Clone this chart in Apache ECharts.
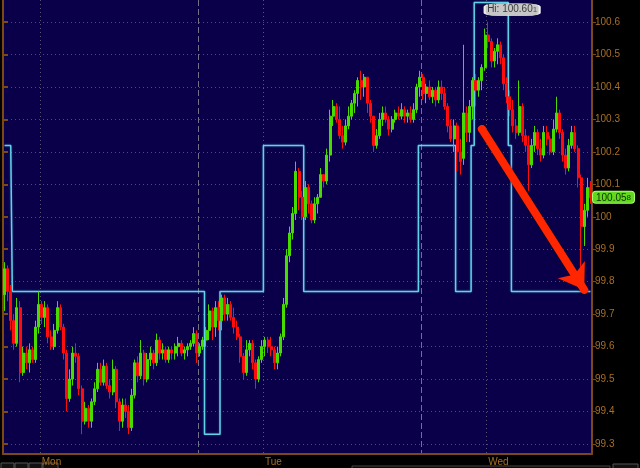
<!DOCTYPE html>
<html>
<head>
<meta charset="utf-8">
<script src="https://cdn.jsdelivr.net/npm/echarts@6/dist/echarts.min.js"></script>
<style>
html,body{margin:0;padding:0;background:#000;}
#c{width:640px;height:468px;}
</style>
</head>
<body>
<div id="c"></div>
<script>
// ---- DATA ----
// 20-minute bars starting Sunday 20:00
const dayNames = ['Sun', 'Mon', 'Tue', 'Wed'];
const firstBarHour = 20;
const barMinutes = 20;
const yTicks = [99.3, 99.4, 99.5, 99.6, 99.7, 99.8, 99.9, 100, 100.1, 100.2, 100.3, 100.4, 100.5, 100.6];

// [open, close, low, high]
const candles = [
[99.76,99.84,99.71,99.86],[99.84,99.77,99.74,99.85],[99.77,99.68,99.65,99.79],[99.68,99.61,99.59,99.70],[99.61,99.72,99.60,99.75],
[99.72,99.52,99.49,99.74],[99.52,99.58,99.51,99.60],[99.58,99.55,99.53,99.60],[99.55,99.59,99.52,99.61],[99.59,99.56,99.55,99.60],
[99.56,99.66,99.55,99.68],[99.66,99.73,99.64,99.77],[99.73,99.69,99.67,99.74],[99.69,99.72,99.66,99.74],[99.72,99.63,99.61,99.73],
[99.63,99.60,99.59,99.65],[99.60,99.65,99.59,99.67],[99.65,99.72,99.64,99.74],[99.72,99.66,99.65,99.73],[99.66,99.58,99.56,99.67],
[99.58,99.44,99.40,99.59],[99.44,99.50,99.43,99.53],[99.50,99.58,99.48,99.60],[99.58,99.57,99.55,99.61],[99.57,99.47,99.45,99.58],
[99.47,99.37,99.33,99.48],[99.37,99.41,99.36,99.43],[99.41,99.37,99.35,99.42],[99.37,99.43,99.35,99.44],[99.43,99.47,99.42,99.49],
[99.47,99.53,99.46,99.55],[99.53,99.49,99.48,99.55],[99.49,99.54,99.48,99.56],[99.54,99.48,99.47,99.55],[99.48,99.46,99.44,99.50],
[99.46,99.53,99.45,99.56],[99.53,99.43,99.41,99.54],[99.43,99.37,99.34,99.44],[99.37,99.42,99.35,99.44],[99.42,99.40,99.38,99.44],
[99.40,99.35,99.33,99.42],[99.35,99.45,99.34,99.47],[99.45,99.55,99.44,99.56],[99.55,99.51,99.49,99.57],[99.51,99.58,99.50,99.62],
[99.58,99.50,99.48,99.59],[99.50,99.56,99.49,99.58],[99.56,99.58,99.54,99.60],[99.58,99.55,99.53,99.59],[99.55,99.62,99.54,99.64],
[99.62,99.58,99.56,99.63],[99.58,99.59,99.56,99.61],[99.59,99.56,99.55,99.60],[99.56,99.59,99.55,99.60],[99.59,99.58,99.56,99.60],
[99.58,99.60,99.56,99.61],[99.60,99.61,99.57,99.63],[99.61,99.58,99.57,99.62],[99.58,99.59,99.56,99.60],[99.59,99.60,99.57,99.61],
[99.60,99.61,99.59,99.62],[99.61,99.64,99.60,99.66],[99.64,99.58,99.55,99.65],[99.58,99.60,99.57,99.61],[99.60,99.62,99.59,99.63],
[99.62,99.65,99.60,99.66],[99.65,99.71,99.62,99.73],[99.71,99.66,99.62,99.72],[99.66,99.72,99.63,99.74],[99.72,99.68,99.65,99.74],
[99.68,99.75,99.65,99.76],[99.75,99.70,99.68,99.76],[99.70,99.73,99.68,99.75],[99.73,99.69,99.68,99.74],[99.69,99.66,99.64,99.72],
[99.66,99.63,99.62,99.68],[99.63,99.57,99.55,99.64],[99.57,99.52,99.50,99.58],[99.52,99.59,99.51,99.62],[99.59,99.61,99.57,99.62],
[99.61,99.55,99.53,99.62],[99.55,99.50,99.47,99.56],[99.50,99.56,99.49,99.57],[99.56,99.60,99.55,99.62],[99.60,99.62,99.57,99.63],
[99.62,99.60,99.58,99.63],[99.60,99.59,99.57,99.63],[99.59,99.55,99.53,99.60],[99.55,99.58,99.53,99.60],[99.58,99.63,99.57,99.64],
[99.63,99.73,99.62,99.75],[99.73,99.88,99.72,99.90],[99.88,99.95,99.86,99.97],[99.95,100.01,99.93,100.03],[100.01,100.14,99.99,100.17],
[100.14,100.06,100.02,100.15],[100.06,100.00,99.99,100.08],[100.00,100.09,99.99,100.11],[100.09,100.04,100.01,100.10],[100.04,99.99,99.98,100.05],
[99.99,100.04,99.98,100.06],[100.04,100.06,100.01,100.07],[100.06,100.13,100.06,100.15],[100.13,100.11,100.09,100.13],[100.11,100.19,100.10,100.21],
[100.19,100.31,100.17,100.33],[100.31,100.34,100.28,100.36],[100.34,100.30,100.29,100.35],[100.30,100.25,100.24,100.34],[100.25,100.23,100.21,100.28],
[100.23,100.28,100.22,100.30],[100.28,100.31,100.27,100.34],[100.31,100.35,100.30,100.36],[100.35,100.38,100.32,100.39],[100.38,100.42,100.34,100.43],
[100.42,100.40,100.36,100.45],[100.40,100.43,100.37,100.44],[100.43,100.35,100.32,100.43],[100.35,100.31,100.29,100.36],[100.31,100.22,100.20,100.31],
[100.22,100.25,100.21,100.27],[100.25,100.30,100.24,100.32],[100.30,100.32,100.28,100.34],[100.32,100.30,100.29,100.34],[100.30,100.27,100.25,100.31],
[100.27,100.30,100.26,100.31],[100.30,100.32,100.29,100.33],[100.32,100.31,100.30,100.34],[100.31,100.33,100.30,100.35],[100.33,100.31,100.29,100.34],
[100.31,100.32,100.29,100.33],[100.32,100.30,100.29,100.34],[100.30,100.33,100.29,100.35],[100.33,100.40,100.32,100.41],[100.40,100.43,100.37,100.45],
[100.43,100.38,100.36,100.44],[100.38,100.40,100.35,100.41],[100.40,100.37,100.36,100.42],[100.37,100.39,100.35,100.40],[100.39,100.36,100.34,100.40],
[100.36,100.40,100.35,100.42],[100.40,100.38,100.36,100.42],[100.38,100.34,100.33,100.40],[100.34,100.28,100.26,100.35],[100.28,100.24,100.23,100.30],
[100.24,100.28,100.20,100.30],[100.28,100.20,100.14,100.29],[100.20,100.17,100.13,100.24],[100.18,100.32,100.16,100.53],[100.32,100.26,100.23,100.34],
[100.26,100.34,100.23,100.36],[100.34,100.42,100.30,100.43],[100.42,100.39,100.34,100.44],[100.39,100.42,100.37,100.43],[100.42,100.46,100.39,100.47],
[100.46,100.56,100.45,100.58],[100.56,100.54,100.52,100.601],[100.54,100.48,100.46,100.55],[100.48,100.51,100.46,100.52],[100.51,100.53,100.47,100.55],
[100.53,100.49,100.47,100.54],[100.49,100.41,100.39,100.50],[100.41,100.37,100.35,100.43],[100.37,100.33,100.31,100.39],[100.33,100.28,100.26,100.36],
[100.28,100.26,100.24,100.30],[100.26,100.34,100.25,100.42],[100.34,100.25,100.23,100.35],[100.25,100.22,100.20,100.27],[100.22,100.16,100.08,100.25],
[100.16,100.22,100.15,100.24],[100.22,100.26,100.20,100.28],[100.26,100.21,100.19,100.27],[100.21,100.19,100.17,100.24],[100.19,100.26,100.18,100.28],
[100.26,100.24,100.22,100.28],[100.24,100.20,100.19,100.25],[100.20,100.27,100.19,100.30],[100.27,100.32,100.26,100.37],[100.32,100.26,100.24,100.33],
[100.26,100.19,100.17,100.27],[100.19,100.15,100.13,100.21],[100.15,100.22,100.14,100.24],[100.22,100.26,100.21,100.28],[100.26,100.21,100.20,100.28],
[100.21,100.12,100.09,100.22],[100.12,99.97,99.84,100.13],[99.97,100.02,99.91,100.04],[100.02,100.09,100.00,100.12],[100.09,100.058,100.04,100.11]
];

// step indicator (cyan), one value per bar
const indicator = [
100.22,100.22,100.22,99.77,99.77,99.77,99.77,99.77,99.77,99.77,
99.77,99.77,99.77,99.77,99.77,99.77,99.77,99.77,99.77,99.77,
99.77,99.77,99.77,99.77,99.77,99.77,99.77,99.77,99.77,99.77,
99.77,99.77,99.77,99.77,99.77,99.77,99.77,99.77,99.77,99.77,
99.77,99.77,99.77,99.77,99.77,99.77,99.77,99.77,99.77,99.77,
99.77,99.77,99.77,99.77,99.77,99.77,99.77,99.77,99.77,99.77,
99.77,99.77,99.77,99.77,99.77,99.33,99.33,99.33,99.33,99.33,
99.77,99.77,99.77,99.77,99.77,99.77,99.77,99.77,99.77,99.77,
99.77,99.77,99.77,99.77,100.22,100.22,100.22,100.22,100.22,100.22,
100.22,100.22,100.22,100.22,100.22,100.22,100.22,99.77,99.77,99.77,
99.77,99.77,99.77,99.77,99.77,99.77,99.77,99.77,99.77,99.77,
99.77,99.77,99.77,99.77,99.77,99.77,99.77,99.77,99.77,99.77,
99.77,99.77,99.77,99.77,99.77,99.77,99.77,99.77,99.77,99.77,
99.77,99.77,99.77,99.77,100.22,100.22,100.22,100.22,100.22,100.22,
100.22,100.22,100.22,100.22,100.22,100.22,99.77,99.77,99.77,99.77,
99.77,100.22,100.66,100.66,100.66,100.66,100.66,100.66,100.66,100.66,
100.66,100.66,100.66,100.22,99.77,99.77,99.77,99.77,99.77,99.77,
99.77,99.77,99.77,99.77,99.77,99.77,99.77,99.77,99.77,99.77,
99.77,99.77,99.77,99.77,99.77,99.77,99.77,99.77,99.77,99.77
];

// annotation arrow (bar index, price)
const arrowFrom = [154, 100.27];
const arrowTo = [187, 99.775];

// ---- BUILD ----
const categories = candles.map((c, i) => {
  const m = firstBarHour * 60 + i * barMinutes;
  const d = Math.floor(m / 1440), mm = m % 1440;
  return dayNames[d] + ' ' + String(Math.floor(mm / 60)).padStart(2, '0') + ':' + String(mm % 60).padStart(2, '0');
});
let hiIdx = 0;
candles.forEach((c, i) => { if (c[3] > candles[hiIdx][3]) hiIdx = i; });
const hiVal = candles[hiIdx][3];
const lastVal = candles[candles.length - 1][1];
const splitNum = v => { const s = v.toFixed(3); return [s.slice(0, -1), s.slice(-1)]; };

const AX = '#7a4a12';
const LBL = '#a86f24';
const FONT = 'Liberation Sans';

const chart = echarts.init(document.getElementById('c'), null, { renderer: 'canvas' });
chart.setOption({
  backgroundColor: '#000',
  animation: false,
  grid: { left: 3, right: 48, top: 0, bottom: 14, show: true, backgroundColor: '#0a0049', borderWidth: 0 },
  xAxis: [{
    type: 'category', data: categories, boundaryGap: true,
    axisLine: { show: true, lineStyle: { color: AX, width: 2 } },
    axisTick: { show: false },
    axisLabel: {
      interval: (i, v) => v.endsWith('00:00'),
      formatter: v => v.slice(0, 3),
      color: LBL, fontSize: 10, fontFamily: FONT, align: 'left', margin: 3
    },
    splitLine: { show: true, interval: (i, v) => v.endsWith('00:00'),
      lineStyle: { color: '#55557a', width: 1, type: [1, 3] } }
  }, {
    type: 'category', data: categories, boundaryGap: true, position: 'bottom',
    axisLine: { show: false }, axisTick: { show: false }, axisLabel: { show: false },
    splitLine: { show: true, interval: (i, v) => v.endsWith('17:00'),
      lineStyle: { color: '#727286', width: 1, type: [6, 3] } }
  }],
  yAxis: [{
    type: 'value', position: 'right', min: 99.269, max: 100.668,
    axisLine: { show: true, lineStyle: { color: AX, width: 2 } },
    axisTick: { show: true, customValues: yTicks, length: 4, lineStyle: { color: AX } },
    axisLabel: { customValues: yTicks, color: LBL, fontSize: 10, fontFamily: FONT, margin: 3 },
    splitLine: { show: true, lineStyle: { color: '#5e4a4a', width: 1, type: [1, 3] } }
  }, {
    type: 'value', position: 'left', min: 99.269, max: 100.668,
    axisLine: { show: true, lineStyle: { color: AX, width: 2 } },
    axisTick: { show: true, inside: true, customValues: yTicks, length: 5, lineStyle: { color: AX, width: 2 } },
    axisLabel: { show: false },
    splitLine: { show: false }
  }],
  series: [{
    type: 'line', name: 'indicator', xAxisIndex: 1, yAxisIndex: 0, data: indicator,
    step: 'middle', showSymbol: false, z: 2,
    lineStyle: { color: '#62d2e8', width: 1.5, shadowColor: 'rgba(90,210,240,0.4)', shadowBlur: 2 },
    markLine: {
      silent: true, animation: false,
      label: { show: false },
      data: [[
        { coord: arrowFrom, symbol: 'circle', symbolSize: 8 },
        { coord: arrowTo, symbol: 'arrow', symbolSize: [24, 24] }
      ]],
      lineStyle: { color: '#ff2600', width: 8, type: 'solid', cap: 'round',
        shadowColor: 'rgba(0,0,0,0.6)', shadowBlur: 3 },
      itemStyle: { color: '#ff2600' }
    }
  }, {
    type: 'candlestick', name: 'price', xAxisIndex: 0, yAxisIndex: 0, data: candles,
    barWidth: 2.5, z: 3,
    itemStyle: { color: '#46dc00', color0: '#ff0c0c', borderColor: '#46dc00', borderColor0: '#ff0c0c', borderWidth: 1 },
    markPoint: {
      silent: true, animation: false,
      data: [{
        coord: [hiIdx, hiVal],
        symbol: 'roundRect', symbolSize: [55, 12], symbolOffset: [24, -12],
        itemStyle: { color: '#c6c6c6', borderColor: '#eeeeee', borderWidth: 1 },
        label: {
          show: true, position: 'inside',
          formatter: () => { const p = splitNum(hiVal); return '{a|Hi: ' + p[0] + '}{b|' + p[1] + '}'; },
          rich: {
            a: { color: '#3a3a3a', fontSize: 10, fontFamily: FONT },
            b: { color: '#555', fontSize: 8, fontFamily: FONT }
          }
        }
      }]
    },
    markLine: {
      silent: true, animation: false, symbol: ['none', 'none'],
      lineStyle: { color: 'rgba(0,0,0,0)', width: 0 },
      data: [{
        yAxis: lastVal,
        label: {
          show: true, position: 'end', distance: 1,
          formatter: () => { const p = splitNum(lastVal); return '{a|' + p[0] + '}{b|' + p[1] + '}'; },
          backgroundColor: '#62d81e', borderColor: '#a8ff70', borderWidth: 1, borderRadius: 3,
          padding: [1, 3, 0, 3],
          rich: {
            a: { color: '#0c3300', fontSize: 10, fontFamily: FONT },
            b: { color: '#0c3300', fontSize: 8, fontFamily: FONT }
          }
        }
      }]
    }
  }],
  graphic: [
    { type: 'rect', shape: { x: 1, y: 463, width: 13, height: 8 }, style: { fill: '#111', stroke: '#555' } },
    { type: 'rect', shape: { x: 15, y: 463, width: 13, height: 8 }, style: { fill: '#111', stroke: '#555' } },
    { type: 'rect', shape: { x: 29, y: 463, width: 13, height: 8 }, style: { fill: '#111', stroke: '#555' } },
    { type: 'rect', shape: { x: 43, y: 463, width: 15, height: 8 }, style: { fill: '#111', stroke: '#555' } },
    { type: 'rect', shape: { x: 352, y: 466, width: 258, height: 6 }, style: { fill: '#0a0a0a', stroke: '#444' } },
    { type: 'rect', shape: { x: 613, y: 464, width: 25, height: 8 }, style: { fill: '#111', stroke: '#555' } }
  ]
});
</script>
</body>
</html>
